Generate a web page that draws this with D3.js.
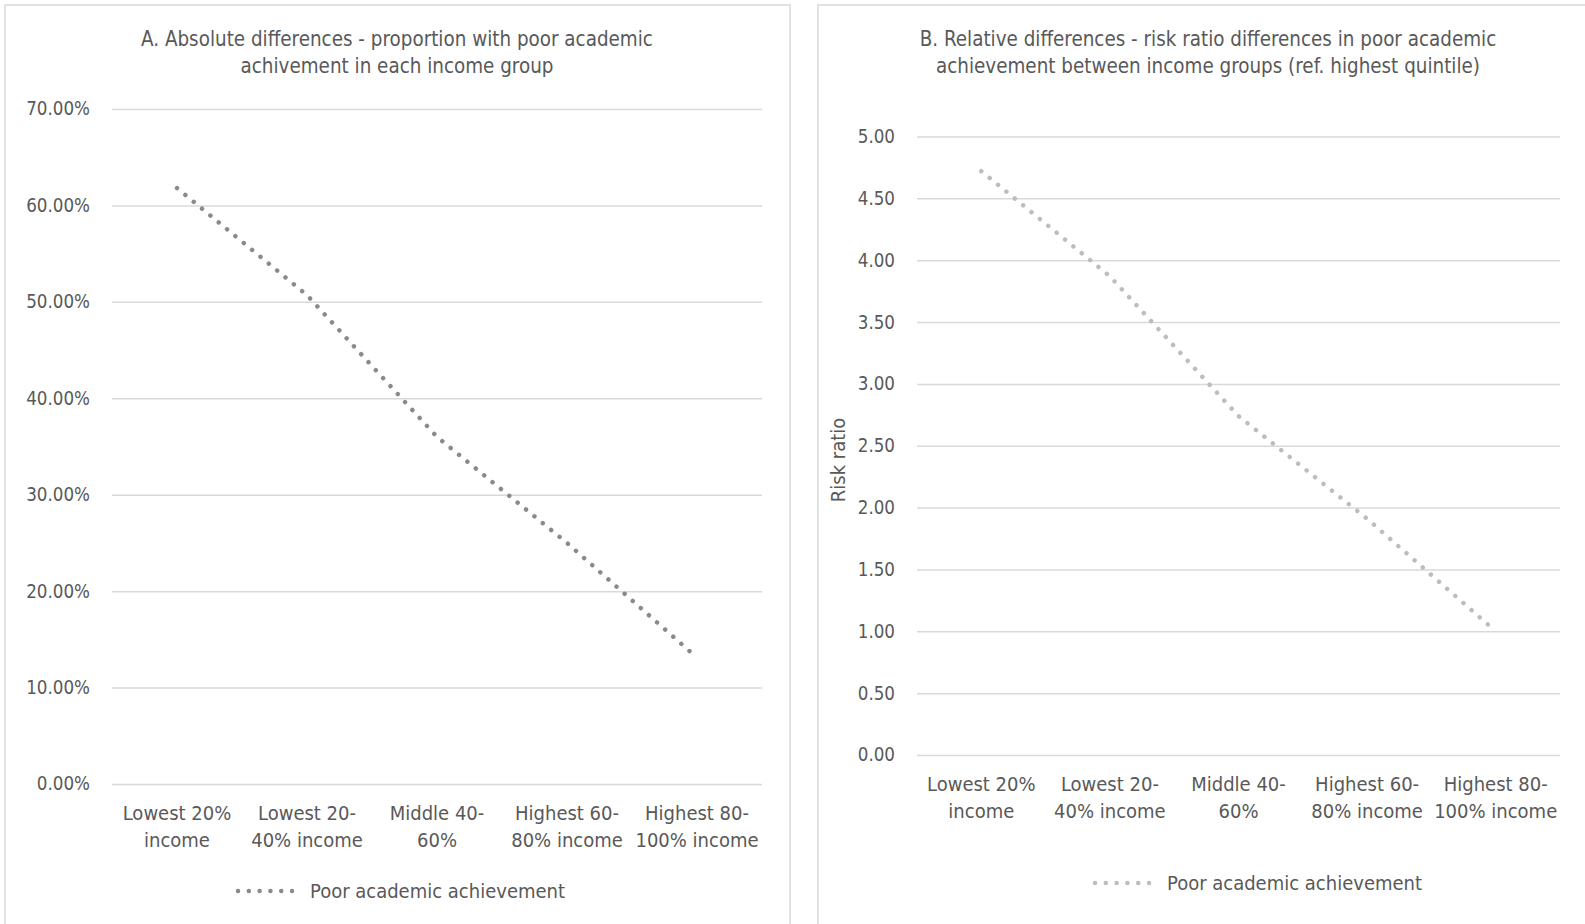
<!DOCTYPE html>
<html>
<head>
<meta charset="utf-8">
<script src="https://cdn.jsdelivr.net/npm/d3@7"></script>
<style>
  html, body { margin: 0; padding: 0; background: #fff; }
  text { font-family: "Liberation Sans Narrow", "DejaVu Sans Condensed", "Open Sans", sans-serif; fill: #595959; }
</style>
</head>
<body>
<svg id="chart" width="1585" height="924"></svg>
<script>
// ---- data ----
const categories = [
  ["Lowest 20%", "income"],
  ["Lowest 20-", "40% income"],
  ["Middle 40-", "60%"],
  ["Highest 60-", "80% income"],
  ["Highest 80-", "100% income"]
];
const proportionPoor = [0.618, 0.507, 0.360, 0.250, 0.131];
const riskRatio = [4.72, 3.87, 2.74, 1.91, 1.00];
const ticksA = [0, 0.1, 0.2, 0.3, 0.4, 0.5, 0.6, 0.7];
const ticksB = [0, 0.5, 1, 1.5, 2, 2.5, 3, 3.5, 4, 4.5, 5];
const titleA = ["A. Absolute differences - proportion with poor academic", "achivement in each income group"];
const titleB = ["B. Relative differences - risk ratio differences in poor academic", "achievement between income groups (ref. highest quintile)"];
const seriesName = "Poor academic achievement";
const yLabelB = "Risk ratio";

const svg = d3.select("#chart");
const FS = 20;
const TFS = 20.4;
const YFS = 18.6;

function panel(cfg) {
  const g = svg.append("g");
  // border
  g.append("rect").attr("x", cfg.bx).attr("y", 5).attr("width", cfg.bw).attr("height", 1000)
    .attr("fill", "none").attr("stroke", "#d9d9d9").attr("stroke-width", 1.5);
  // title
  cfg.title.forEach((t, i) => {
    g.append("text").attr("x", cfg.tx).attr("y", 46 + i * 27).attr("text-anchor", "middle")
      .style("font-size", TFS + "px").text(t);
  });
  const x = d3.scaleBand().domain(categories.map((d, i) => i)).range([cfg.x0, cfg.x1]);
  const y = d3.scaleLinear().domain(cfg.domain).range([cfg.y0, cfg.y1]);
  // grid
  const yAxis = d3.axisLeft(y).tickValues(cfg.ticks).tickFormat(cfg.fmt).tickSize(-(cfg.x1 - cfg.x0)).tickPadding(22);
  const ga = g.append("g").attr("transform", `translate(${cfg.x0},0)`).call(yAxis);
  ga.select(".domain").remove();
  ga.selectAll(".tick line").attr("stroke", "#d9d9d9").attr("stroke-width", 1.5);
  ga.selectAll(".tick text").style("font-size", YFS + "px").attr("fill", "#595959").attr("font-family", null);
  // category labels
  const gx = g.append("g");
  categories.forEach((c, i) => {
    c.forEach((line, j) => {
      gx.append("text").attr("x", x(i) + x.bandwidth() / 2).attr("y", cfg.y0 + 36 + j * 27)
        .attr("text-anchor", "middle").style("font-size", FS + "px").text(line);
    });
  });
  // line
  const line = d3.line().x((d, i) => x(i) + x.bandwidth() / 2).y(d => y(d));
  g.append("path").datum(cfg.values).attr("d", line).attr("fill", "none")
    .attr("stroke", cfg.color).attr("stroke-width", 4.5).attr("stroke-linecap", "round")
    .attr("stroke-dasharray", "0.01 10.8");
  // legend
  g.append("line").attr("x1", cfg.lx).attr("x2", cfg.lx + 57).attr("y1", cfg.ly).attr("y2", cfg.ly)
    .attr("stroke", cfg.color).attr("stroke-width", 4.5).attr("stroke-linecap", "round")
    .attr("stroke-dasharray", "0.01 10.8");
  g.append("text").attr("x", cfg.lx + 72).attr("y", cfg.ly + 7).style("font-size", FS + "px").text(seriesName);
  return {x, y, g};
}

panel({
  bx: 5, bw: 785, tx: 397, title: titleA,
  x0: 112, x1: 762, y0: 784, y1: 109, domain: [0, 0.7], ticks: ticksA,
  fmt: d3.format(".2%"), values: proportionPoor, color: "#8a8a8a",
  lx: 238, ly: 891
});
const pB = panel({
  bx: 818, bw: 800, tx: 1208, title: titleB,
  x0: 917, x1: 1560, y0: 755, y1: 136.5, domain: [0, 5], ticks: ticksB,
  fmt: d3.format(".2f"), values: riskRatio, color: "#bdbdbd",
  lx: 1095, ly: 883
});
pB.g.append("text").attr("transform", "translate(845,460) rotate(-90)").attr("text-anchor", "middle")
  .style("font-size", FS + "px").text(yLabelB);
</script>
</body>
</html>
